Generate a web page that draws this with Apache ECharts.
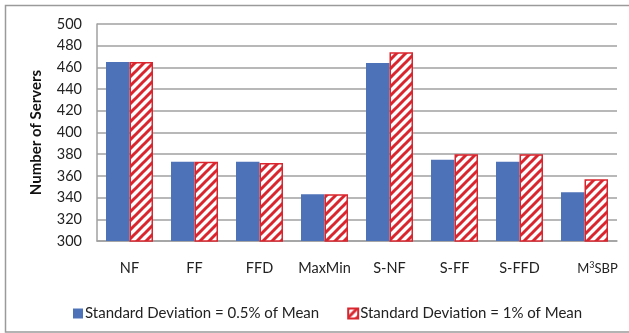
<!DOCTYPE html>
<html>
<head>
<meta charset="utf-8">
<script src="https://cdn.jsdelivr.net/npm/echarts@6/dist/echarts.min.js"></script>
<style>html,body{margin:0;padding:0;background:#fff}#c{width:629px;height:333px}</style>
</head>
<body>
<div id="c"></div>
<script>
var categories = ['NF', 'FF', 'FFD', 'MaxMin', 'S-NF', 'S-FF', 'S-FFD', 'M3SBP'];
var seriesNames = ['Standard Deviation = 0.5% of Mean', 'Standard Deviation = 1% of Mean'];
var sd05 = [465, 373, 373, 343, 464, 375, 373, 345];
var sd1 = [465, 373, 372, 343, 474, 380, 380, 357];
var yMin = 300, yMax = 500, yStep = 20;

var BLUE = '#4e72b8';
var RED = '#d9262e';

function hatch() {
  var c = document.createElement('canvas');
  c.width = 9; c.height = 9;
  var g = c.getContext('2d');
  g.fillStyle = '#fff';
  g.fillRect(0, 0, 9, 9);
  g.strokeStyle = RED;
  g.lineWidth = 3;
  g.beginPath();
  g.moveTo(-2, 2); g.lineTo(2, -2);
  g.moveTo(0, 9); g.lineTo(9, 0);
  g.moveTo(7, 11); g.lineTo(11, 7);
  g.stroke();
  return c;
}

var chart = echarts.init(document.getElementById('c'), null, {renderer: 'canvas'});
var font = 'Lato, "Open Sans", sans-serif';
chart.setOption({
  animation: false,
  graphic: [{
    type: 'rect', shape: {x: 5.5, y: 5.5, width: 700, height: 326.5},
    style: {fill: 'none', stroke: '#9a9a9a', lineWidth: 1.5}, silent: true, z: -1
  }],
  grid: {left: 97, right: 12, top: 24, bottom: 92},
  legend: {
    data: seriesNames,
    left: 68, top: 301,
    itemWidth: 10, itemHeight: 10, itemGap: 28,
    icon: 'rect',
    textStyle: {fontFamily: font, fontSize: 15, color: '#222', padding: [0, 0, 0, -3]}
  },
  xAxis: {
    type: 'category',
    data: categories,
    axisLine: {lineStyle: {color: '#a0a0a0', width: 1.5}},
    axisTick: {show: false},
    axisLabel: {
      interval: 0, margin: 20, color: '#222', fontFamily: font, fontSize: 14.5,
      formatter: function (v) { return v === 'M3SBP' ? '{p|}{m|M}{s|3}{m|SBP}' : v; },
      rich: {
        p: {width: 26, fontSize: 13, lineHeight: 15},
        m: {fontFamily: font, fontSize: 13, color: '#222', lineHeight: 15},
        s: {fontFamily: font, fontSize: 9, color: '#222', lineHeight: 10, verticalAlign: 'top'}
      }
    }
  },
  yAxis: {
    type: 'value', min: yMin, max: yMax, interval: yStep,
    name: 'Number of Servers', nameLocation: 'middle', nameGap: 53,
    nameTextStyle: {fontFamily: font, fontSize: 15, fontWeight: 'bold', color: '#111'},
    axisLine: {show: true, lineStyle: {color: '#a0a0a0', width: 1.5}},
    axisTick: {show: false},
    axisLabel: {margin: 15, color: '#222', fontFamily: font, fontSize: 14.5},
    splitLine: {lineStyle: {color: '#a0a0a0', width: 1.5}}
  },
  series: [
    {name: seriesNames[0], type: 'bar', data: sd05, barWidth: 23.5, barGap: '0%',
     itemStyle: {color: BLUE}},
    {name: seriesNames[1], type: 'bar', data: sd1, barWidth: 23.5, barGap: '0%',
     itemStyle: {color: {image: hatch(), repeat: 'repeat'}, borderColor: RED, borderWidth: 1.5}}
  ]
});
</script>
</body>
</html>
